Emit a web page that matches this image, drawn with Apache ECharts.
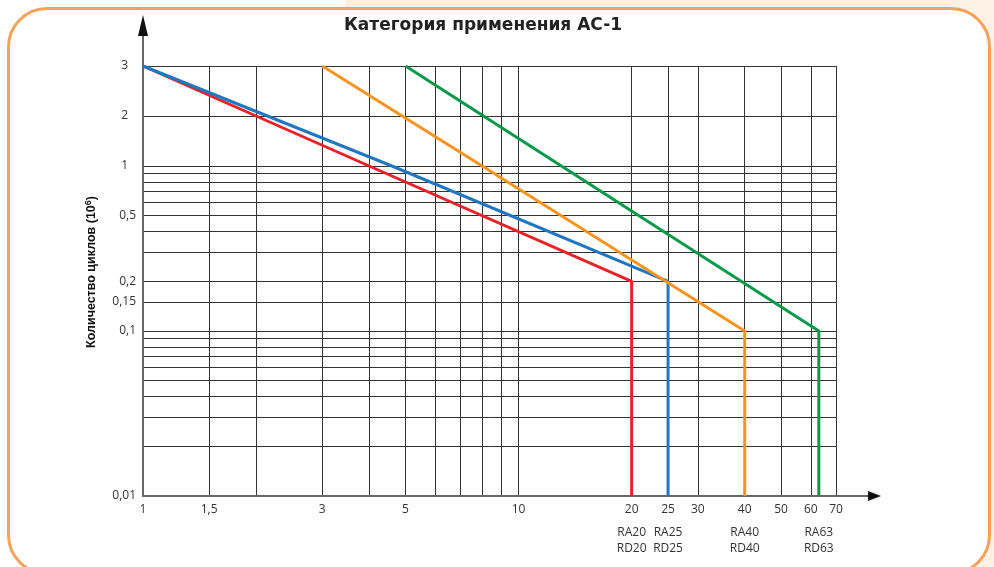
<!DOCTYPE html>
<html><head><meta charset="utf-8">
<script src="https://cdn.jsdelivr.net/npm/echarts@6/dist/echarts.min.js"></script>
<style>
html,body{margin:0;padding:0;background:#fff;}
#wrap{position:relative;width:994px;height:567px;overflow:hidden;}
#peach{position:absolute;left:345px;top:0;width:649px;height:567px;background:#fdf1e6;}
#frame{position:absolute;left:7px;top:7px;width:978px;height:562px;border:3px solid #f8a159;border-radius:40px;background:#fff;}
#c{position:absolute;left:0;top:0;width:994px;height:567px;}
</style>
</head><body>
<div id="wrap"><div id="peach"></div><div id="frame"></div><div id="c"></div></div>
<script>
// ---- data ----
const chartTitle = 'Категория применения AC-1';
const xTickValues = [1, 1.5, 3, 5, 10, 20, 25, 30, 40, 50, 60, 70];
const xTickText   = ['1', '1,5', '3', '5', '10', '20', '25', '30', '40', '50', '60', '70'];
const xGridValues = [1, 1.5, 2, 3, 4, 5, 6, 7, 8, 9, 10, 20, 25, 30, 40, 50, 60, 70];
const yUpperTicks = [1, 2, 3];
const yUpperText  = ['1', '2', '3'];
const yLowerGrid  = [1, 0.9, 0.8, 0.7, 0.6, 0.5, 0.4, 0.3, 0.2, 0.15, 0.1, 0.09, 0.08, 0.07, 0.06, 0.05, 0.04, 0.03, 0.02, 0.01];
const yLowerTicks = [0.5, 0.2, 0.15, 0.1, 0.01];
const yLowerText  = ['0,5', '0,2', '0,15', '0,1', '0,01'];
const ratedCurrent = [20, 25, 40, 63];
const deviceNames  = ['RA20\nRD20', 'RA25\nRD25', 'RA40\nRD40', 'RA63\nRD63'];
// curves: upper part (3 … 1), lower part (1 … 0.01)
const redUpper    = [[1, 3], [4, 1]];
const redLower    = [[4, 1], [20, 0.2], [20, 0.01]];
const blueUpper   = [[1, 3], [4.6, 1]];
const blueLower   = [[4.6, 1], [25, 0.2], [25, 0.01]];
const orangeUpper = [[3, 3], [8, 1]];
const orangeLower = [[8, 1], [40, 0.1], [40, 0.01]];
const greenUpper  = [[5, 3], [13, 1]];
const greenLower  = [[13, 1], [63, 0.1], [63, 0.01]];

// ---- chart ----
const GRID_COLOR = '#333';
const AXIS_COLOR = '#666';
const FONT = "'Open Sans', 'Noto Sans', sans-serif";

function lookup(vals, texts) {
  return function (v) {
    let best = 0, bd = Infinity;
    for (let i = 0; i < vals.length; i++) {
      const d = Math.abs(Math.log(vals[i]) - Math.log(v));
      if (d < bd) { bd = d; best = i; }
    }
    return texts[best];
  };
}

const chart = echarts.init(document.getElementById('c'), null, { renderer: 'canvas' });

const xBase = {
  type: 'log', logBase: 10, min: 1, max: 70,
  axisTick: { show: false, customValues: xGridValues },
  splitLine: { show: true, lineStyle: { color: GRID_COLOR, width: 1 } },
  minorTick: { show: false }, minorSplitLine: { show: false }
};

const lineStyleOf = c => ({ color: c, width: 3 });
function mk(name, data, color, idx) {
  return {
    name: name, type: 'line', data: data, xAxisIndex: idx, yAxisIndex: idx,
    symbol: 'none', clip: false, silent: true, animation: false,
    lineStyle: lineStyleOf(color), itemStyle: { color: color }
  };
}

const option = {
  backgroundColor: 'transparent',
  animation: false,
  grid: [
    { left: 143, right: 158, top: 66, height: 100 },
    { left: 143, right: 158, top: 166, height: 330 }
  ],
  xAxis: [
    Object.assign({}, xBase, {
      gridIndex: 0, axisLine: { show: false }, axisLabel: { show: false }
    }),
    Object.assign({}, xBase, {
      gridIndex: 1,
      axisLine: { show: true, lineStyle: { color: AXIS_COLOR, width: 2 } },
      axisLabel: {
        show: true, customValues: xTickValues, formatter: lookup(xTickValues, xTickText),
        color: '#333', fontFamily: FONT, fontSize: 12, margin: 8,
        showMinLabel: true, showMaxLabel: true, hideOverlap: false
      }
    }),
    {
      type: 'log', logBase: 10, min: 1, max: 70, gridIndex: 1, position: 'bottom',
      axisLine: { show: false }, splitLine: { show: false },
      axisTick: { show: false, customValues: ratedCurrent },
      axisLabel: {
        show: true, customValues: ratedCurrent, formatter: lookup(ratedCurrent, deviceNames),
        color: '#333', fontFamily: FONT, fontSize: 12, lineHeight: 16, margin: 29,
        hideOverlap: false
      }
    }
  ],
  yAxis: [
    {
      type: 'value', gridIndex: 0, min: 1, max: 3, interval: 1,
      axisLine: { show: true, lineStyle: { color: AXIS_COLOR, width: 2 } },
      axisTick: { show: false },
      splitLine: { show: true, lineStyle: { color: GRID_COLOR, width: 1 } },
      axisLabel: {
        show: true, customValues: yUpperTicks, formatter: lookup(yUpperTicks, yUpperText),
        color: '#333', fontFamily: FONT, fontSize: 12, margin: 15,
        showMinLabel: true, showMaxLabel: true
      }
    },
    {
      type: 'log', logBase: 10, gridIndex: 1, min: 0.01, max: 1,
      axisLine: { show: true, lineStyle: { color: AXIS_COLOR, width: 2 } },
      axisTick: { show: false, customValues: yLowerGrid },
      splitLine: { show: true, lineStyle: { color: GRID_COLOR, width: 1 } },
      minorTick: { show: false }, minorSplitLine: { show: false },
      axisLabel: {
        show: true, customValues: yLowerTicks, formatter: lookup(yLowerTicks, yLowerText),
        color: '#333', fontFamily: FONT, fontSize: 12, margin: 7,
        showMinLabel: true, showMaxLabel: true
      }
    }
  ],
  series: [
    mk('RA20', redUpper, '#e52329', 0),
    mk('RA20', redLower, '#e52329', 1),
    mk('RA25', blueUpper, '#1f77c0', 0),
    mk('RA25', blueLower, '#1f77c0', 1),
    mk('RA40', orangeUpper, '#f7941d', 0),
    mk('RA40', orangeLower, '#f7941d', 1),
    mk('RA63', greenUpper, '#07994a', 0),
    mk('RA63', greenLower, '#07994a', 1)
  ],
  graphic: [
    { type: 'text', x: 483, y: 26,
      style: { text: chartTitle, fill: '#222', align: 'center', verticalAlign: 'middle',
               font: "bold 17px 'DejaVu Sans', sans-serif" } },
    { type: 'text', x: 92, y: 272, rotation: Math.PI / 2,
      style: {
        text: '{a|Количество циклов (10}{s|6}{a|)}', align: 'center', verticalAlign: 'middle',
        rich: {
          a: { font: "bold 12.5px 'Liberation Sans', Arial, sans-serif", fill: '#111' },
          s: { font: "bold 9px 'Liberation Sans', Arial, sans-serif", fill: '#111', padding: [0, 0, 7, 0] }
        }
      } },
    // axis extensions with arrows
    { type: 'line', shape: { x1: 143, y1: 66, x2: 143, y2: 34 }, style: { stroke: AXIS_COLOR, lineWidth: 2 } },
    { type: 'polygon', shape: { points: [[143, 15], [138, 36], [148, 36]] }, style: { fill: '#111' } },
    { type: 'line', shape: { x1: 836, y1: 496, x2: 870, y2: 496 }, style: { stroke: AXIS_COLOR, lineWidth: 2 } },
    { type: 'polygon', shape: { points: [[881, 496], [868, 491], [868, 501]] }, style: { fill: '#111' } }
  ]
};
chart.setOption(option);
</script>
</body></html>
